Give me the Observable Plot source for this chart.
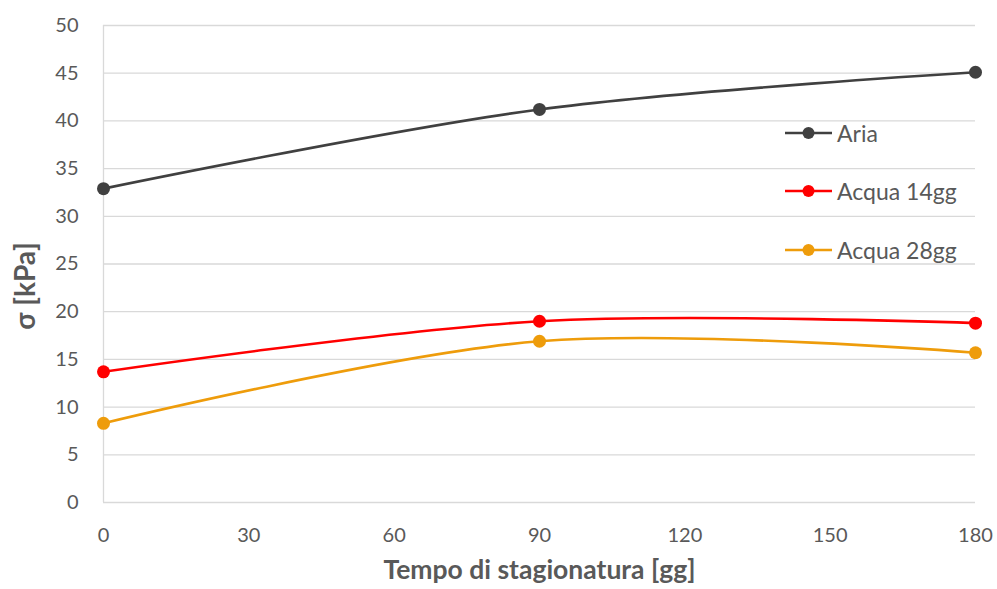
<!DOCTYPE html>
<html>
<head>
<meta charset="utf-8">
<script src="https://cdn.jsdelivr.net/npm/d3@7"></script>
<script src="https://cdn.jsdelivr.net/npm/@observablehq/plot@0.6"></script>
<style>
  html, body { margin: 0; padding: 0; background: #fff; }
  #wrap { position: relative; width: 997px; height: 589px; font-family: Lato, "Open Sans", sans-serif; }
  .legend { position: absolute; left: 785px; top: 0; }
  .item { position: absolute; left: 0; height: 20px; display: flex; align-items: center; white-space: nowrap; }
  .item span { font-size: 23px; color: #595959; margin-left: 4px; }
</style>
</head>
<body>
<div id="wrap"></div>
<script>
const days = [0, 90, 180];
const seriesNames = ["Aria", "Acqua 14gg", "Acqua 28gg"];
const aria = [32.9, 41.2, 45.1];
const acqua14 = [13.7, 19.0, 18.8];
const acqua28 = [8.3, 16.9, 15.7];
const colors = ["#404040", "#ff0000", "#ee9c0b"];
const xTicks = [0, 30, 60, 90, 120, 150, 180];
const yTicks = [0, 5, 10, 15, 20, 25, 30, 35, 40, 45, 50];

const values = [aria, acqua14, acqua28];
const rows = [];
seriesNames.forEach((s, i) => days.forEach((d, j) => rows.push({series: s, day: d, value: values[i][j]})));

const font = "Lato, 'Open Sans', sans-serif";

const chart = Plot.plot({
  width: 997,
  height: 589,
  marginLeft: 103,
  marginRight: 22,
  marginTop: 25,
  marginBottom: 87,
  style: {fontFamily: font, fontSize: "20px", color: "#595959", background: "#fff"},
  x: {domain: [0, 180], ticks: xTicks, label: null},
  y: {domain: [0, 50], ticks: yTicks, label: null},
  color: {domain: seriesNames, range: colors},
  marks: [
    Plot.gridY(yTicks, {stroke: "#d9d9d9", strokeOpacity: 1, strokeWidth: 1.3}),
    Plot.ruleX([0], {stroke: "#d9d9d9", strokeWidth: 1.3}),
    Plot.axisX({ticks: xTicks, tickSize: 0, tickPadding: 25, fill: "#595959", fontSize: 20, label: null}),
    Plot.axisY({ticks: yTicks, tickSize: 0, tickPadding: 25, fill: "#595959", fontSize: 20, label: null}),
    Plot.line(rows, {x: "day", y: "value", z: "series", stroke: "series", strokeWidth: 2.6, curve: "catmull-rom"}),
    Plot.dot(rows, {x: "day", y: "value", fill: "series", r: 6.5}),
    Plot.text(["Tempo di stagionatura [gg]"], {frameAnchor: "bottom", dy: 76, fontSize: 26.5, fontWeight: "bold", fill: "#595959"}),
    Plot.text(["σ [kPa]"], {frameAnchor: "left", textAnchor: "middle", dx: -77, dy: 22, rotate: -90, fontSize: 28, fontWeight: "bold", fill: "#595959"})
  ]
});

const wrap = document.getElementById("wrap");
wrap.appendChild(chart);

const legend = document.createElement("div");
legend.className = "legend";
const tops = [123, 181, 240];
seriesNames.forEach((s, i) => {
  const item = document.createElement("div");
  item.className = "item";
  item.style.top = tops[i] + "px";
  item.innerHTML = `<svg width="48" height="20"><line x1="0" y1="10" x2="47" y2="10" stroke="${colors[i]}" stroke-width="2.6"/><circle cx="23.5" cy="10" r="6" fill="${colors[i]}"/></svg><span>${s}</span>`;
  legend.appendChild(item);
});
wrap.appendChild(legend);
</script>
</body>
</html>
